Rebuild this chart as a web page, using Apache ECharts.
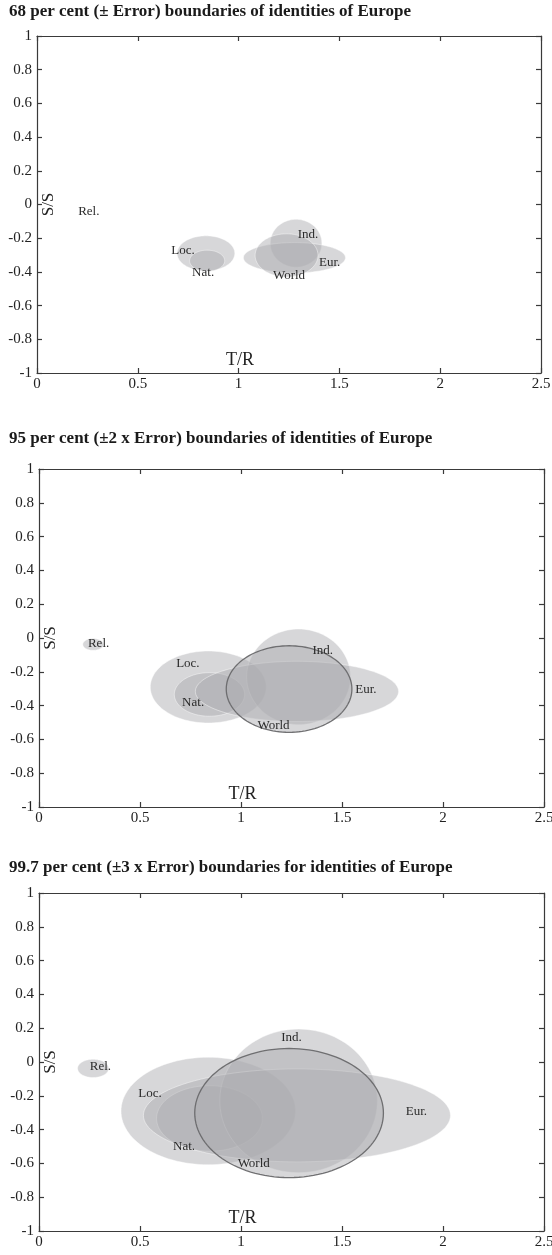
<!DOCTYPE html>
<html>
<head>
<meta charset="utf-8">
<script src="https://cdn.jsdelivr.net/npm/echarts@6/dist/echarts.min.js"></script>
<style>
html,body{margin:0;padding:0;background:#fff;}
#chart{width:552px;height:1255px;}
</style>
</head>
<body>
<div id="chart"></div>
<script>
// ---- data ----
const panelTitles = [
  '68 per cent (\u00b1 Error) boundaries of identities of Europe',
  '95 per cent (\u00b12 x Error) boundaries of identities of Europe',
  '99.7 per cent (\u00b13 x Error) boundaries for identities of Europe'
];
const identities = ['Rel.', 'Loc.', 'Nat.', 'Ind.', 'Eur.', 'World'];
// ellipse centres (T/R, S/S)
const centreT = [0.268, 0.838, 0.844, 1.285, 1.277, 1.238];
const centreS = [-0.038, -0.290, -0.334, -0.230, -0.316, -0.302];
// half widths (T/R) and half heights (S/S) per panel
const halfT1 = [0.000, 0.143, 0.087, 0.128, 0.253, 0.156];
const halfS1 = [0.000, 0.104, 0.063, 0.142, 0.090, 0.128];
const halfT2 = [0.051, 0.287, 0.174, 0.257, 0.503, 0.311];
const halfS2 = [0.035, 0.213, 0.129, 0.283, 0.178, 0.256];
const halfT3 = [0.077, 0.432, 0.262, 0.390, 0.760, 0.467];
const halfS3 = [0.054, 0.318, 0.194, 0.425, 0.275, 0.382];
// label anchors (T/R, S/S) per panel
const labelT1 = [0.257, 0.724, 0.824, 1.344, 1.452, 1.250];
const labelS1 = [-0.041, -0.275, -0.404, -0.180, -0.344, -0.424];
const labelT2 = [0.295, 0.737, 0.763, 1.405, 1.618, 1.161];
const labelS2 = [-0.031, -0.150, -0.380, -0.076, -0.307, -0.519];
const labelT3 = [0.304, 0.550, 0.718, 1.250, 1.868, 1.063];
const labelS3 = [-0.026, -0.189, -0.501, 0.143, -0.294, -0.600];
const xTicks = [0, 0.5, 1, 1.5, 2, 2.5];
const yTicks = [-1, -0.8, -0.6, -0.4, -0.2, 0, 0.2, 0.4, 0.6, 0.8, 1];
const xName = 'T/R';
const yName = 'S/S';

// ---- layout ----
const SERIF = "'Liberation Serif','DejaVu Serif',serif";
const grids = [
  {left: 37, top: 36, width: 504, height: 337, containLabel: false, outerBoundsMode: 'none'},
  {left: 39, top: 469, width: 505, height: 338, containLabel: false, outerBoundsMode: 'none'},
  {left: 39, top: 893, width: 505, height: 338, containLabel: false, outerBoundsMode: 'none'}
];
const titleTops = [3, 430, 859];
const halfT = [halfT1, halfT2, halfT3];
const halfS = [halfS1, halfS2, halfS3];
const labT = [labelT1, labelT2, labelT3];
const labS = [labelS1, labelS2, labelS3];
const outlineWorld = [false, true, true];

const lineStyle = {color: '#3a3a3a', width: 1.2};
function mainX(i) {
  return {
    type: 'value', gridIndex: i, position: 'bottom',
    min: xTicks[0], max: xTicks[xTicks.length - 1], interval: 0.5,
    axisLine: {show: true, onZero: false, lineStyle},
    axisTick: {show: true, inside: true, length: 5, lineStyle},
    axisLabel: {show: true, margin: 4, fontFamily: SERIF, fontSize: 15, color: '#222', hideOverlap: false},
    splitLine: {show: false},
    name: xName, nameLocation: 'middle', nameGap: -13, nameMoveOverlap: false,
    nameTextStyle: {fontFamily: SERIF, fontSize: 18, color: '#222', verticalAlign: 'middle', padding: [0, 98, 0, 0]}
  };
}
function topX(i) {
  return {
    type: 'value', gridIndex: i, position: 'top',
    min: xTicks[0], max: xTicks[xTicks.length - 1], interval: 0.5,
    axisLine: {show: true, onZero: false, lineStyle},
    axisTick: {show: true, inside: true, length: 5, lineStyle},
    axisLabel: {show: false}, splitLine: {show: false}
  };
}
function mainY(i) {
  return {
    type: 'value', gridIndex: i, position: 'left',
    min: yTicks[0], max: yTicks[yTicks.length - 1], interval: 0.2,
    axisLine: {show: true, onZero: false, lineStyle},
    axisTick: {show: true, inside: true, length: 5, lineStyle},
    axisLabel: {show: true, margin: 5, fontFamily: SERIF, fontSize: 15, color: '#222', hideOverlap: false,
      formatter: v => String(Math.round(v * 10) / 10)},
    splitLine: {show: false},
    name: yName, nameLocation: 'middle', nameGap: -12, nameMoveOverlap: false,
    nameTextStyle: {fontFamily: SERIF, fontSize: 17, color: '#222', verticalAlign: 'middle', align: 'center'}
  };
}
function rightY(i) {
  return {
    type: 'value', gridIndex: i, position: 'right',
    min: yTicks[0], max: yTicks[yTicks.length - 1], interval: 0.2,
    axisLine: {show: true, onZero: false, lineStyle},
    axisTick: {show: true, inside: true, length: 5, lineStyle},
    axisLabel: {show: false}, splitLine: {show: false}
  };
}

const series = [];
for (let p = 0; p < 3; p++) {
  const ellData = identities.map((n, k) => [centreT[k], centreS[k], halfT[p][k], halfS[p][k], k]);
  series.push({
    type: 'custom', xAxisIndex: p, yAxisIndex: p, clip: true, silent: true,
    encode: {x: 0, y: 1},
    data: ellData,
    renderItem: function (params, api) {
      const cx = api.value(0), cy = api.value(1), rx = api.value(2), ry = api.value(3);
      const k = api.value(4);
      if (!(rx > 0 && ry > 0)) return null;
      const pts = [];
      const N = 120;
      for (let i = 0; i < N; i++) {
        const a = i / N * Math.PI * 2;
        pts.push(api.coord([cx + rx * Math.cos(a), cy + ry * Math.sin(a)]));
      }
      const isWorld = identities[k] === 'World';
      const outlined = isWorld && outlineWorld[p];
      return {
        type: 'polygon', shape: {points: pts},
        z2: outlined ? 10 : 1,
        style: {
          fill: 'rgba(172,172,176,0.48)',
          stroke: outlined ? 'rgba(105,105,108,0.95)' : 'rgba(255,255,255,0.55)',
          lineWidth: outlined ? 1.3 : 0.8
        }
      };
    }
  });
  const labData = identities.map((n, k) => [labT[p][k], labS[p][k], k]);
  series.push({
    type: 'custom', xAxisIndex: p, yAxisIndex: p, clip: false, silent: true, z: 5,
    encode: {x: 0, y: 1},
    data: labData,
    renderItem: function (params, api) {
      const pt = api.coord([api.value(0), api.value(1)]);
      return {
        type: 'text', x: pt[0], y: pt[1],
        style: {text: identities[api.value(2)], fontFamily: SERIF, fontSize: 13, fill: '#2a2a2a',
          align: 'center', verticalAlign: 'middle'}
      };
    }
  });
}

const option = {
  animation: false,
  backgroundColor: '#fff',
  title: panelTitles.map((t, i) => ({
    text: t, left: 9, top: titleTops[i], padding: 0,
    textStyle: {fontFamily: SERIF, fontWeight: 'bold', fontSize: 17, color: '#1a1a1a'}
  })),
  grid: grids,
  xAxis: [mainX(0), mainX(1), mainX(2), topX(0), topX(1), topX(2)],
  yAxis: [mainY(0), mainY(1), mainY(2), rightY(0), rightY(1), rightY(2)],
  series
};
const chart = echarts.init(document.getElementById('chart'), null, {renderer: 'canvas'});
chart.setOption(option);
</script>
</body>
</html>
